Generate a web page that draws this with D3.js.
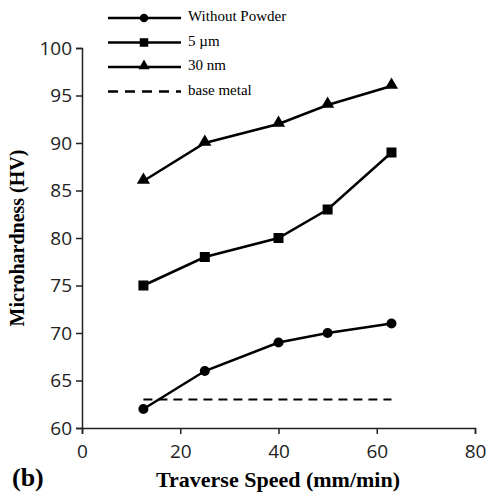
<!DOCTYPE html>
<html>
<head>
<meta charset="utf-8">
<script src="https://cdn.jsdelivr.net/npm/d3@7"></script>
<style>
  body { margin: 0; background: #fff; }
  .tick text { font-family: "Open Sans", sans-serif; font-size: 19px; fill: #222; }
</style>
</head>
<body>
<div id="chart"></div>
<script>
// values
var speeds = [12.5, 25, 40, 50, 63];
var withoutPowder = [62, 66, 69, 70, 71];
var micron5 = [75, 78, 80, 83, 89];
var nano30 = [86, 90, 92, 94, 96];
var baseMetal = 63;
var xTicks = [0, 20, 40, 60, 80];
var yTicks = [60, 65, 70, 75, 80, 85, 90, 95, 100];

var seriesNames = ["Without Powder", "5 \u00b5m", "30 nm", "base metal"];
var seriesMarks = ["circle", "square", "triangle", "none"];

var W = 487, H = 493;

var svg = d3.select("#chart")
  .append("svg")
    .attr("width", W)
    .attr("height", H);

var x = d3.scaleLinear().domain([0, 80]).range([82, 475]);
var y = d3.scaleLinear().domain([60, 100]).range([428, 48]);

// axes
svg.append("g")
  .attr("transform", "translate(0," + y(60) + ")")
  .call(d3.axisBottom(x).tickValues(xTicks).tickSize(6).tickPadding(11))
  .call(g => g.select(".domain").attr("stroke", "#222").attr("stroke-width", 1.5))
  .call(g => g.selectAll(".tick line").attr("stroke", "#222").attr("stroke-width", 1.5));

svg.append("g")
  .attr("transform", "translate(" + x(0) + ",0)")
  .call(d3.axisLeft(y).tickValues(yTicks).tickSize(6).tickPadding(4))
  .call(g => g.select(".domain").attr("stroke", "#222").attr("stroke-width", 1.5))
  .call(g => g.selectAll(".tick line").attr("stroke", "#222").attr("stroke-width", 1.5));

// axis titles
svg.append("text")
  .attr("transform", "translate(19," + ((y(60) + y(100)) / 2) + ") rotate(-90)")
  .attr("text-anchor", "middle")
  .attr("dominant-baseline", "middle")
  .style("font-family", "'Liberation Serif', serif")
  .style("font-weight", "bold")
  .style("font-size", "20px")
  .text("Microhardness (HV)");

svg.append("text")
  .attr("x", 278)
  .attr("y", 487)
  .attr("text-anchor", "middle")
  .style("font-family", "'Liberation Serif', serif")
  .style("font-weight", "bold")
  .style("font-size", "22px")
  .text("Traverse Speed (mm/min)");

svg.append("text")
  .attr("x", 12)
  .attr("y", 486)
  .style("font-family", "'Liberation Serif', serif")
  .style("font-weight", "bold")
  .style("font-size", "26px")
  .text("(b)");

// data lines
var line = d3.line()
  .x(d => x(d[0]))
  .y(d => y(d[1]));

var allSeries = [withoutPowder, micron5, nano30];

function drawMark(g, kind, cx, cy, s) {
  if (kind == "circle") {
    g.append("circle").attr("cx", cx).attr("cy", cy).attr("r", 5 * s).attr("fill", "#000");
  } else if (kind == "square") {
    g.append("rect").attr("x", cx - 5 * s).attr("y", cy - 5 * s)
      .attr("width", 10 * s).attr("height", 10 * s).attr("fill", "#000");
  } else if (kind == "triangle") {
    g.append("path")
      .attr("d", d3.symbol().type(d3.symbolTriangle).size(75 * s * s)())
      .attr("transform", "translate(" + cx + "," + (cy - 1) + ")")
      .attr("fill", "#000");
  }
}

allSeries.forEach(function (vals, i) {
  var pts = speeds.map((s, j) => [s, vals[j]]);
  svg.append("path")
    .datum(pts)
    .attr("fill", "none")
    .attr("stroke", "#000")
    .attr("stroke-width", 2.5)
    .attr("d", line);
  var g = svg.append("g");
  pts.forEach(p => drawMark(g, seriesMarks[i], x(p[0]), y(p[1]), 1));
});

// base metal dashed line
svg.append("line")
  .attr("x1", x(speeds[0]))
  .attr("x2", x(speeds[speeds.length - 1]))
  .attr("y1", y(baseMetal))
  .attr("y2", y(baseMetal))
  .attr("stroke", "#000")
  .attr("stroke-width", 2.2)
  .attr("stroke-dasharray", "9,6");

// legend
var legend = svg.append("g");
seriesNames.forEach(function (name, i) {
  var ly = 18 + i * 24.5;
  var l = legend.append("line")
    .attr("x1", 108).attr("x2", 181)
    .attr("y1", ly).attr("y2", ly)
    .attr("stroke", "#000")
    .attr("stroke-width", 2.5);
  if (seriesMarks[i] == "none") l.attr("stroke-dasharray", "10,7");
  drawMark(legend, seriesMarks[i], 144, ly, 0.85);
  legend.append("text")
    .attr("x", 188)
    .attr("y", ly)
    .attr("dominant-baseline", "middle")
    .style("font-family", "'Liberation Serif', serif")
    .style("font-size", "15px")
    .text(name);
});
</script>
</body>
</html>
